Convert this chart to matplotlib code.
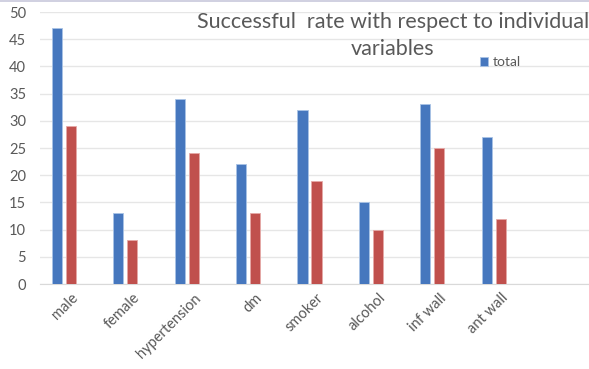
import numpy as np
import matplotlib
matplotlib.use("Agg")
import matplotlib.pyplot as plt

# success counts per variable
categories = ["male", "female", "hypertension", "dm", "smoker",
              "alcohol", "inf wall", "ant wall", ""]
total = [47, 13, 34, 22, 32, 15, 33, 27]
successful = [29, 8, 24, 13, 19, 10, 25, 12]

blue = "#4677be"
red = "#c0504d"
grey_txt = "#595959"

plt.rcParams['font.family'] = ['Lato', 'DejaVu Sans']

fig = plt.figure(figsize=(5.89, 3.69), dpi=100)
ax = fig.add_axes([40 / 589, 85 / 369, 549 / 589, 272 / 369])

x = np.arange(len(total))
w = 0.165
ax.bar(x - 0.228, total, width=w, color=blue, edgecolor="#a9c3e6",
       linewidth=0.6, label="total", zorder=3)
ax.bar(x, successful, width=w, color=red, edgecolor="#e6a9a7",
       linewidth=0.6, zorder=3)

ax.set_xlim(-0.5, -0.5 + 549 / 61.45)
ax.set_ylim(0, 50)
ax.set_yticks(np.arange(0, 51, 5))
ax.set_xticks(np.arange(len(categories)))
ax.set_xticklabels(categories, rotation=45, ha="right",
                   rotation_mode="anchor", fontsize=10.5, color=grey_txt)
ax.tick_params(axis="x", length=0, pad=5)
ax.tick_params(axis="y", length=0, pad=10, labelsize=10.5, labelcolor=grey_txt)
ax.grid(axis="y", color="#e6e6e6", linewidth=1, zorder=0)
for s in ["top", "right", "left"]:
    ax.spines[s].set_visible(False)
ax.spines["bottom"].set_color("#d9d9d9")

fig.text(393 / 589, 1 - 28 / 369, "Successful  rate with respect to individual",
         ha="center", va="baseline", fontsize=15.5, color=grey_txt)
fig.text(393 / 589, 1 - 55 / 369, "variables",
         ha="center", va="baseline", fontsize=15.5, color=grey_txt)

leg = ax.legend(loc="upper left", bbox_to_anchor=(480 / 589, 1 - 56 / 369),
                bbox_transform=fig.transFigure, frameon=False, fontsize=10,
                handlelength=0.6, handleheight=0.6, handletextpad=0.35,
                borderpad=0, borderaxespad=0)
for t in leg.get_texts():
    t.set_color(grey_txt)

# thin frame line along the top
fig.add_artist(plt.Line2D([0, 1], [0.997, 0.997], transform=fig.transFigure,
                          color="#c8c8dc", linewidth=1.2))

fig.savefig("out.png", dpi=100)
